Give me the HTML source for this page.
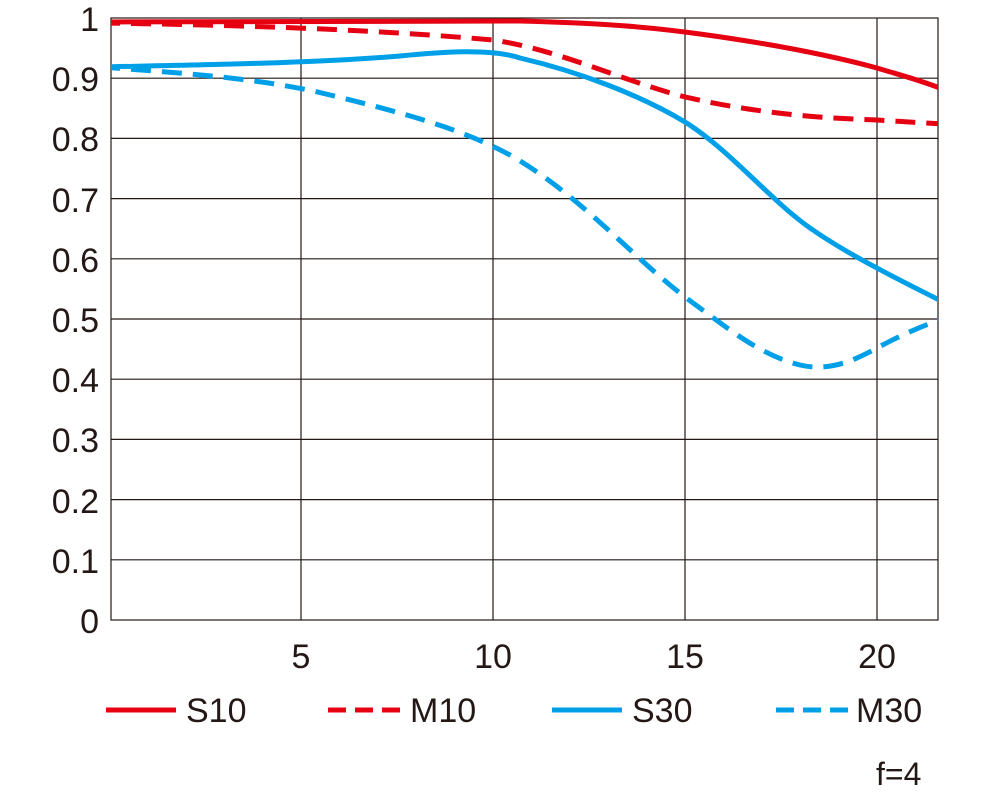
<!DOCTYPE html>
<html><head><style>
body{margin:0;background:#fff;}
svg text{font-family:"Liberation Sans",sans-serif;fill:#231815;}
</style></head><body>
<svg width="1000" height="789" viewBox="0 0 1000 789" xmlns="http://www.w3.org/2000/svg">
<g stroke="#231815" stroke-width="1.2" fill="none">
<rect x="111" y="18" width="827" height="602"/>
<line x1="111" y1="78.2" x2="938" y2="78.2"/>
<line x1="111" y1="138.4" x2="938" y2="138.4"/>
<line x1="111" y1="198.6" x2="938" y2="198.6"/>
<line x1="111" y1="258.8" x2="938" y2="258.8"/>
<line x1="111" y1="319" x2="938" y2="319"/>
<line x1="111" y1="379.2" x2="938" y2="379.2"/>
<line x1="111" y1="439.4" x2="938" y2="439.4"/>
<line x1="111" y1="499.6" x2="938" y2="499.6"/>
<line x1="111" y1="559.8" x2="938" y2="559.8"/>
<line x1="301" y1="18" x2="301" y2="620"/>
<line x1="493" y1="18" x2="493" y2="620"/>
<line x1="685" y1="18" x2="685" y2="620"/>
<line x1="877" y1="18" x2="877" y2="620"/>
</g>
<g font-size="34" text-anchor="end">
<text x="99" y="31">1</text>
<text x="99" y="91">0.9</text>
<text x="99" y="151">0.8</text>
<text x="99" y="212">0.7</text>
<text x="99" y="272">0.6</text>
<text x="99" y="332">0.5</text>
<text x="99" y="392">0.4</text>
<text x="99" y="452">0.3</text>
<text x="99" y="513">0.2</text>
<text x="99" y="573">0.1</text>
<text x="99" y="633">0</text>
</g>
<g font-size="34" text-anchor="middle">
<text x="301" y="668">5</text>
<text x="493" y="668">10</text>
<text x="685" y="668">15</text>
<text x="877" y="668">20</text>
</g>
<svg x="111" y="0" width="827" height="640" viewBox="111 0 827 640" overflow="hidden">
<g fill="none" stroke-width="5">
<path d="M100,22 C300,21 450,20 520,21 C600,23 650,27 700,34 C780,45 840,58 877,68 C900,75 920,80 945,90" stroke="#e50012"/>
<path d="M100,23 C250,25 380,30 493,40 C560,50 620,80 685,97 C760,114 820,118 877,120 C910,122 925,123 945,124" stroke="#e50012" stroke-dasharray="20,11"/>
<path d="M100,67 C250,64 330,62 400,56 C440,52 490,48 520,58 C580,72 640,95 685,122 C730,150 770,200 810,228 C850,256 900,280 945,303" stroke="#00a0e9"/>
<path d="M100,67 C200,74 270,80 330,95 C400,112 460,128 510,155 C580,195 630,255 685,297 C730,330 760,355 800,365 C830,372 855,360 877,348 C905,333 925,325 945,318" stroke="#00a0e9" stroke-dasharray="20,11"/>
</g>
</svg>
<g stroke-width="5">
<line x1="106" y1="710" x2="176" y2="710" stroke="#e50012"/>
<line x1="328" y1="710" x2="400" y2="710" stroke="#e50012" stroke-dasharray="18,9"/>
<line x1="552" y1="710" x2="622" y2="710" stroke="#00a0e9"/>
<line x1="776" y1="710" x2="848" y2="710" stroke="#00a0e9" stroke-dasharray="18,9"/>
</g>
<g font-size="34">
<text x="186" y="722">S10</text>
<text x="410" y="722">M10</text>
<text x="632" y="722">S30</text>
<text x="856" y="722">M30</text>
<text x="876" y="785" font-size="32">f=4</text>
</g>
</svg>
</body></html>
